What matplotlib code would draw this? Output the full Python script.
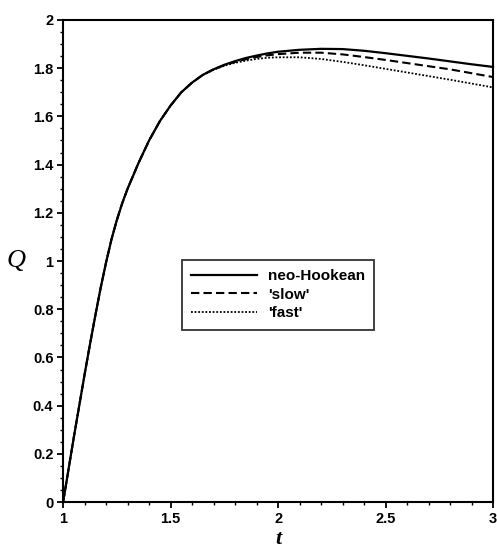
import matplotlib
matplotlib.use("Agg")
import matplotlib.pyplot as plt
from matplotlib.ticker import MultipleLocator, FuncFormatter

# time values and Q for the three material models
t = [1.0, 1.025, 1.05, 1.075, 1.1, 1.125, 1.15, 1.175, 1.2, 1.225, 1.25, 1.275,
     1.3, 1.35, 1.4, 1.45, 1.5, 1.55, 1.6, 1.65, 1.7, 1.75, 1.8, 1.85, 1.9,
     1.95, 2.0, 2.1, 2.2, 2.3, 2.4, 2.5, 2.6, 2.7, 2.8, 2.9, 3.0]

q_neo = [0.0, 0.135, 0.27, 0.40, 0.53, 0.655, 0.775, 0.89, 0.995, 1.09, 1.17,
         1.24, 1.30, 1.405, 1.50, 1.58, 1.645, 1.70, 1.74, 1.772, 1.795,
         1.814, 1.829, 1.842, 1.852, 1.861, 1.868, 1.876, 1.880, 1.879,
         1.872, 1.862, 1.851, 1.840, 1.828, 1.816, 1.805]

q_slow = [0.0, 0.135, 0.27, 0.40, 0.53, 0.655, 0.775, 0.89, 0.995, 1.09, 1.17,
          1.24, 1.30, 1.405, 1.50, 1.58, 1.645, 1.70, 1.74, 1.772, 1.795,
          1.812, 1.826, 1.837, 1.846, 1.853, 1.858, 1.864, 1.864, 1.857,
          1.846, 1.834, 1.821, 1.808, 1.795, 1.779, 1.763]

q_fast = [0.0, 0.135, 0.27, 0.40, 0.53, 0.655, 0.775, 0.89, 0.995, 1.09, 1.17,
          1.24, 1.30, 1.405, 1.50, 1.58, 1.645, 1.70, 1.74, 1.772, 1.793,
          1.810, 1.822, 1.831, 1.838, 1.843, 1.845, 1.845, 1.838, 1.826,
          1.812, 1.797, 1.782, 1.767, 1.752, 1.736, 1.720]

labels = ["neo-Hookean", "'slow'", "'fast'"]

sans = "Liberation Sans"
serif = "Liberation Serif"

fig = plt.figure(figsize=(4.97, 5.53), dpi=100)
ax = fig.add_axes([0.127, 0.092, 0.865, 0.872])

ax.plot(t, q_neo, color="black", lw=1.6, ls="-", label=labels[0], clip_on=False)
ax.plot(t, q_slow, color="black", lw=1.5, ls=(0, (4, 2)), label=labels[1], clip_on=False)
ax.plot(t, q_fast, color="black", lw=1.3, ls=(0, (1, 1)), label=labels[2], clip_on=False)

ax.set_xlim(1, 3)
ax.set_ylim(0, 2)

ax.xaxis.set_major_locator(MultipleLocator(0.5))
ax.xaxis.set_minor_locator(MultipleLocator(0.1))
ax.yaxis.set_major_locator(MultipleLocator(0.2))
ax.yaxis.set_minor_locator(MultipleLocator(0.05))
fmt = FuncFormatter(lambda v, p: "%g" % round(v, 3))
ax.xaxis.set_major_formatter(fmt)
ax.yaxis.set_major_formatter(fmt)

ax.tick_params(which="major", direction="out", length=4, width=1.3, pad=3)
ax.tick_params(which="minor", direction="out", length=2, width=1.0)
for lbl in ax.get_xticklabels() + ax.get_yticklabels():
    lbl.set_fontfamily(sans)
    lbl.set_fontweight("bold")
    lbl.set_fontsize(10.5)

for side in ax.spines.values():
    side.set_linewidth(1.5)

ax.set_xlabel("t", fontfamily=serif, fontstyle="italic", fontweight="bold",
              fontsize=16, labelpad=2)
ax.set_ylabel("Q", fontfamily=serif, fontstyle="italic", fontsize=19,
              rotation=0, labelpad=12, va="center")

leg = ax.legend(loc="upper left", bbox_to_anchor=(0.277, 0.502),
                borderaxespad=0, fancybox=False, frameon=True,
                handlelength=4.3, handletextpad=0.7, labelspacing=0.3,
                borderpad=0.6,
                prop={"family": sans, "weight": "bold", "size": 11})
leg.get_frame().set_edgecolor("black")
leg.get_frame().set_linewidth(1.3)

fig.savefig("out.png", dpi=100)
